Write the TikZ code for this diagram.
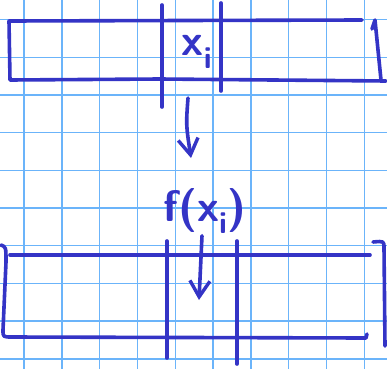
\documentclass[tikz,border=0pt]{standalone}
\usepackage{tikz}
\usetikzlibrary{arrows.meta}
\definecolor{Paper}{HTML}{FFFFFF}
\definecolor{Grid}{HTML}{6BB4FA}
\definecolor{Ink}{HTML}{3434C6}
\tikzset{
  gridline/.style={Grid,line width=1.4pt},
  ink/.style={Ink,line width=3.6pt,line cap=round,line join=round},
  inkarrow/.style={ink,-{Straight Barb[length=16pt,width=20pt,line width=3.4pt]}},
  label/.style={text=Ink,inner sep=0pt,font=\fontsize{44}{46}\selectfont\sffamily\bfseries}
}
\begin{document}
\begin{tikzpicture}[x=1pt,y=-1pt]
        \useasboundingbox[fill=Paper] (0,0) rectangle (387,369);
        \foreach \gx in {0,...,9} \draw[gridline] (24+37.8*\gx,0) -- (24+37.8*\gx,369);
        \foreach \gy in {0,...,9} \draw[gridline] (0,19.5+37.7*\gy) -- (387,19.5+37.7*\gy);

        % top strip
        \draw[ink] (362,20) -- (9,21) -- (10,80) -- (160,79) -- (386,81);
        \draw[ink] (372,29) -- (375,20) -- (381,80);
        \draw[ink] (162,5) -- (162,107);
        \draw[ink] (221,3) -- (221,91);
        \node[label] (xi) at (197,52) {x\textsubscript{i}};

        \coordinate (topout) at (188,98);
        \coordinate (fxin) at (191,158);
        \draw[inkarrow] (topout) .. controls (186,125) .. (fxin);

        % bottom strip
        \node[label] (fx) at (205,211) {f(x\textsubscript{i})};
        \draw[ink] (10,255) -- (370,255);
        \draw[ink] (1,245) .. controls (6,247) .. (6,262) -- (3,330) .. controls (3,337) .. (12,337) -- (366,338) -- (367,334);
        \draw[ink] (373,242) .. controls (384,241) .. (384,248) -- (385,346);
        \draw[ink] (167,241) -- (167,358);
        \draw[ink] (237,241) -- (237,364);

        \coordinate (fxout) at (199,300);
        \draw[inkarrow] (fx.south) ++(-3,2) -- (fxout);
      \end{tikzpicture}
\end{document}
